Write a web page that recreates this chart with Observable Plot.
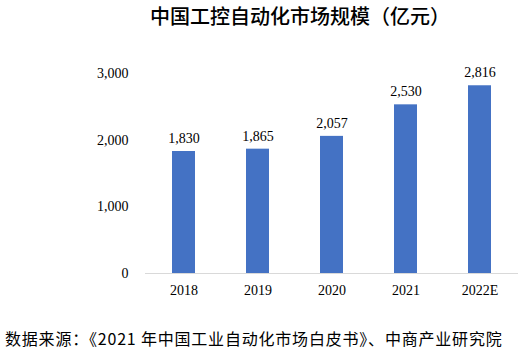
<!DOCTYPE html>
<html>
<head>
<meta charset="utf-8">
<script src="https://cdn.jsdelivr.net/npm/d3@7"></script>
<script src="https://cdn.jsdelivr.net/npm/@observablehq/plot@0.6"></script>
<style>
  html, body { margin: 0; padding: 0; background: #fff; }
  #wrap { position: relative; width: 523px; height: 355px; overflow: hidden; }
  #title { position: absolute; left: 0; top: 3px; width: 600px; text-align: center;
           font-family: "Noto Sans CJK SC", sans-serif; font-weight: 500; font-size: 20px; line-height: 26px; color: #000; }
  #chart { position: absolute; left: 0; top: 40px; }
  #caption { position: absolute; left: 5px; top: 328px; white-space: nowrap;
             font-family: "Noto Sans CJK SC", sans-serif; font-size: 16px; line-height: 20px; letter-spacing: 0.8px; color: #000; }
</style>
</head>
<body>
<div id="wrap">
  <div id="title">中国工控自动化市场规模（亿元）</div>
  <div id="chart"></div>
  <div id="caption">数据来源：《2021 年中国工业自动化市场白皮书》、中商产业研究院</div>
</div>
<script>
const years = ["2018", "2019", "2020", "2021", "2022E"];
const values = [1830, 1865, 2057, 2530, 2816];
const yTicks = [0, 1000, 2000, 3000];

const data = years.map((year, i) => ({year, value: values[i]}));
const fmt = d3.format(",");

const chart = Plot.plot({
  width: 523,
  height: 280,
  marginLeft: 145,
  marginRight: 5,
  marginTop: 33,
  marginBottom: 47,
  style: {fontFamily: "'Liberation Serif', 'Times New Roman', serif", fontSize: "14px", color: "#000", background: "#fff"},
  x: {domain: years, paddingInner: 0.69, paddingOuter: 0.345, label: null, tickSize: 0, tickPadding: 12},
  y: {domain: [0, 3000], ticks: yTicks, tickFormat: fmt, label: null, tickSize: 0, tickPadding: 17},
  marks: [
    Plot.barY(data, {x: "year", y: "value", fill: "#4472C4"}),
    Plot.ruleY([0], {stroke: "#d9d9d9", strokeWidth: 1}),
    Plot.text(data, {x: "year", y: "value", text: d => fmt(d.value), dy: -13, fill: "#000", fontSize: 14})
  ]
});
document.getElementById("chart").appendChild(chart);
</script>
</body>
</html>
